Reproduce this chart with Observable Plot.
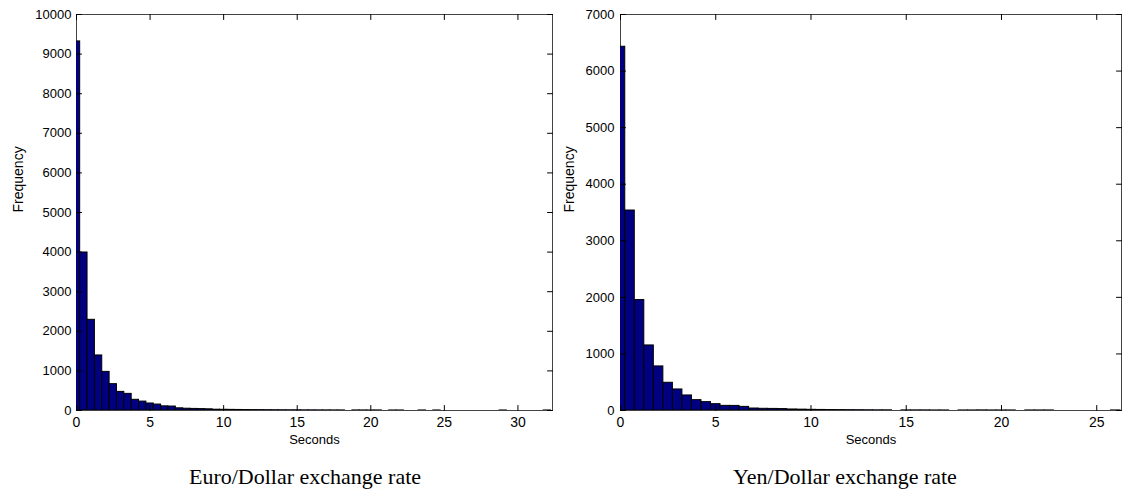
<!DOCTYPE html>
<html>
<head>
<meta charset="utf-8">
<script src="https://cdn.jsdelivr.net/npm/d3@7"></script>
<script src="https://cdn.jsdelivr.net/npm/@observablehq/plot@0.6"></script>
<style>
  html, body { margin: 0; padding: 0; background: #fff; }
  #wrap { position: relative; width: 1125px; height: 500px; overflow: hidden; }
  .panel { position: absolute; top: 0; }
  .caption { position: absolute; top: 464px; width: 400px; text-align: center;
             font-family: "Liberation Serif", "Times New Roman", serif; font-size: 22px; color: #000; }
</style>
</head>
<body>
<div id="wrap">
  <div id="left" class="panel" style="left:0px"></div>
  <div id="right" class="panel" style="left:560px"></div>
  <div class="caption" style="left:105px">Euro/Dollar exchange rate</div>
  <div class="caption" style="left:645px">Yen/Dollar exchange rate</div>
</div>
<script>
// ---- data (bins of 0.5 s, centred on multiples of 0.5) ----
const binWidth = 0.5;

const euroCounts = [
  9320, 3990, 2290, 1390, 975, 665, 470, 420, 270, 225, 177, 150, 105, 100, 55, 45, 40, 35, 30,
  20, 18, 16, 14, 12, 10, 9, 8, 7, 6, 5, 5, 4, 4, 3, 3, 2, 2,
  0,
  2, 2, 1, 2,
  0,
  1, 1,
  0, 0,
  1,
  0,
  1,
  0, 0, 0, 0, 0, 0, 0, 0,
  1,
  0, 0, 0, 0, 0,
  1
];

const yenCounts = [
  6430, 3535, 1952, 1150, 779, 490, 372, 266, 183, 148, 112, 82, 81, 64,
  35, 30, 28, 25,
  18, 15, 12, 10, 8, 7, 6, 5, 4, 3, 3,
  0,
  2, 2, 2, 1, 1,
  0,
  1, 1, 2, 1, 1, 1,
  0,
  1, 1, 1,
  0, 0, 0, 0, 0, 0,
  1
];

const euroXTicks = [0, 5, 10, 15, 20, 25, 30];
const euroYTicks = [0, 1000, 2000, 3000, 4000, 5000, 6000, 7000, 8000, 9000, 10000];
const yenXTicks = [0, 5, 10, 15, 20, 25];
const yenYTicks = [0, 1000, 2000, 3000, 4000, 5000, 6000, 7000];

const euroXMax = 32.35, euroYMax = 10000;
const yenXMax = 26.3, yenYMax = 7000;

function toBins(counts) {
  return counts.map((c, k) => ({
    x1: k * binWidth - binWidth / 2,
    x2: k * binWidth + binWidth / 2,
    count: c
  })).filter(d => d.count > 0);
}

// plain line tick shape for the vector mark
const lineShape = {
  draw(context, l) {
    context.moveTo(0, 0);
    context.lineTo(0, -l);
  }
};

function histogram({counts, xMax, yMax, xTicks, yTicks, width, marginLeft, marginRight, labelDx, yPad}) {
  const tickLen = 5;
  const tick = {length: tickLen, anchor: "start", shape: lineShape, stroke: "#000", strokeWidth: 1};
  return Plot.plot({
    width, height: 450,
    marginLeft, marginRight, marginTop: 14, marginBottom: 40,
    style: {fontFamily: "'Liberation Sans', Arial, sans-serif", fontSize: "13px", background: "#fff", color: "#000"},
    x: {domain: [0, xMax], label: null},
    y: {domain: [0, yMax], label: null},
    marks: [
      Plot.frame({stroke: "#444", strokeWidth: 1}),
      Plot.rectY(toBins(counts), {x1: "x1", x2: "x2", y1: 0, y2: "count", inset: 0,
        fill: "#000080", stroke: "#000", strokeWidth: 1, clip: true}),
      // inward MATLAB-style ticks on all four sides
      Plot.vector(xTicks, {...tick, x: d => d, frameAnchor: "bottom", rotate: 0}),
      Plot.vector(xTicks, {...tick, x: d => d, frameAnchor: "top", rotate: 180}),
      Plot.vector(yTicks, {...tick, y: d => d, frameAnchor: "left", rotate: 90}),
      Plot.vector(yTicks, {...tick, y: d => d, frameAnchor: "right", rotate: -90}),
      Plot.axisX({ticks: xTicks, tickSize: 0, tickPadding: 7, fontSize: 14, label: null, tickFormat: d => String(d)}),
      Plot.axisY({ticks: yTicks, tickSize: 0, tickPadding: yPad, fontSize: 13, label: null, tickFormat: d => String(d)}),
      Plot.text(["Seconds"], {text: d => d, frameAnchor: "bottom", dy: 33, fontSize: 13}),
      Plot.text(["Frequency"], {text: d => d, frameAnchor: "left", dx: labelDx, rotate: -90, fontSize: 14})
    ]
  });
}

document.getElementById("left").append(histogram({
  counts: euroCounts, xMax: euroXMax, yMax: euroYMax, xTicks: euroXTicks, yTicks: euroYTicks,
  width: 560, marginLeft: 76, marginRight: 8, labelDx: -58, yPad: 5
}));
document.getElementById("right").append(histogram({
  counts: yenCounts, xMax: yenXMax, yMax: yenYMax, xTicks: yenXTicks, yTicks: yenYTicks,
  width: 565, marginLeft: 60, marginRight: 4, labelDx: -51, yPad: 6
}));
</script>
</body>
</html>
